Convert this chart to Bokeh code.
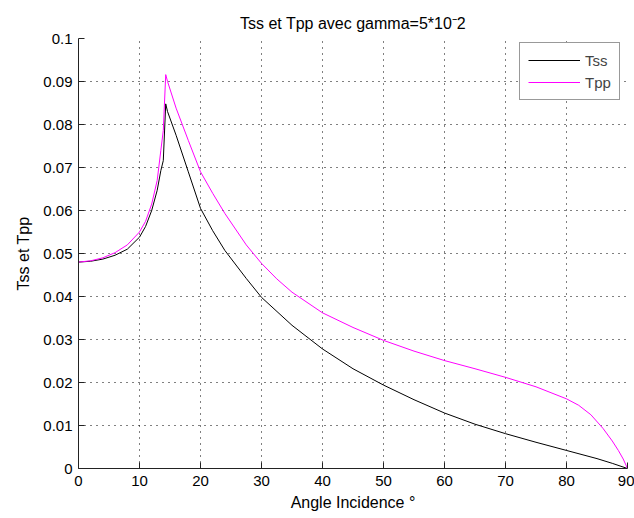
from bokeh.plotting import figure
from bokeh.models import Range1d, FixedTicker, Legend, LegendItem
from bokeh.embed import file_html
from bokeh.resources import INLINE

# ---- data ----
angle_s = [0, 2, 4, 6, 8, 10, 11, 12, 12.9, 13.5, 13.9, 14.3, 14.6, 16, 18, 20, 22,
           24, 27.5, 30, 35, 40, 45, 50, 55, 60, 65, 70, 75, 80, 85, 87.5, 90]
tss = [0.048, 0.0482, 0.0487, 0.0496, 0.051, 0.0538, 0.0563, 0.0600, 0.0647, 0.0693,
       0.0716, 0.0848, 0.0830, 0.0775, 0.069, 0.0605, 0.0553, 0.0507, 0.0442, 0.0398,
       0.0333, 0.0278, 0.0232, 0.0194, 0.016, 0.0129, 0.0103, 0.0081, 0.0061, 0.0042,
       0.0023, 0.0012, 0.0]

angle_p = [0, 2, 4, 6, 8, 10, 11, 12, 12.9, 13.5, 13.9, 14.3, 14.6, 16, 18, 20, 22,
           24, 27.5, 30, 32.5, 35, 40, 45, 50, 55, 60, 65, 70, 75, 80, 82, 84, 86,
           87.5, 88.5, 89.3, 90]
tpp = [0.048, 0.0483, 0.049, 0.0502, 0.052, 0.055, 0.0575, 0.0615, 0.067, 0.074,
       0.0786, 0.0916, 0.090, 0.0838, 0.0763, 0.069, 0.064, 0.0593, 0.052, 0.0477,
       0.0441, 0.041, 0.0362, 0.0328, 0.0298, 0.0273, 0.0251, 0.0232, 0.0212, 0.019,
       0.0162, 0.0147, 0.0125, 0.0093, 0.0064, 0.0042, 0.0022, 0.0]

x_ticks = [0, 10, 20, 30, 40, 50, 60, 70, 80, 90]
y_ticks = [0, 0.01, 0.02, 0.03, 0.04, 0.05, 0.06, 0.07, 0.08, 0.09, 0.1]
y_tick_labels = ["0", "0.01", "0.02", "0.03", "0.04", "0.05", "0.06", "0.07",
                 "0.08", "0.09", "0.1"]

title_text = "Tss et Tpp avec gamma=5*10\u207b2"
x_label = "Angle Incidence \u00b0"
y_label = "Tss et Tpp"
series_names = ["Tss", "Tpp"]
series_colors = ["#000000", "#ff00ff"]

FONT = "Liberation Sans"

p = figure(width=634, height=518, output_backend="svg", toolbar_location=None,
           x_range=Range1d(0, 90), y_range=Range1d(0, 0.1),
           min_border_left=78, min_border_right=7, min_border_top=38,
           min_border_bottom=50, title=title_text)

p.title.align = "center"
p.title.text_font = FONT
p.title.text_font_size = "16px"
p.title.text_font_style = "normal"
p.title.text_color = "#000000"
p.title.offset = 0
p.title.standoff = 14

p.background_fill_color = "white"
p.border_fill_color = "white"
p.outline_line_color = None

for ax in (p.xaxis, p.yaxis):
    ax.axis_line_color = "#222222"
    ax.axis_line_width = 1
    ax.major_tick_line_color = "#222222"
    ax.major_tick_in = 6
    ax.major_tick_out = 0
    ax.minor_tick_line_color = None
    ax.major_label_text_font = FONT
    ax.major_label_text_font_size = "15px"
    ax.major_label_text_color = "#000000"
    ax.axis_label_text_font = FONT
    ax.axis_label_text_font_size = "16px"
    ax.axis_label_text_font_style = "normal"
    ax.axis_label_text_color = "#000000"

p.xaxis.ticker = FixedTicker(ticks=x_ticks)
p.yaxis.ticker = FixedTicker(ticks=y_ticks)
p.yaxis.major_label_overrides = {t: l for t, l in zip(y_ticks, y_tick_labels)}
p.xaxis.major_label_standoff = 7
p.yaxis.major_label_standoff = 6
p.xaxis.axis_label = x_label
p.yaxis.axis_label = y_label
p.xaxis.axis_label_standoff = 5
p.yaxis.axis_label_standoff = 8

for g in (p.xgrid, p.ygrid):
    g.grid_line_color = "#000000"
    g.grid_line_dash = "1 5"
    g.grid_line_width = 1
    g.grid_line_alpha = 1.0
p.xgrid.ticker = FixedTicker(ticks=x_ticks)
p.ygrid.ticker = FixedTicker(ticks=y_ticks)

r1 = p.line(angle_s, tss, line_color=series_colors[0], line_width=1)
r2 = p.line(angle_p, tpp, line_color=series_colors[1], line_width=1)

legend = Legend(items=[LegendItem(label=series_names[0], renderers=[r1]),
                       LegendItem(label=series_names[1], renderers=[r2])],
                location=(441, 368))
legend.border_line_color = "#333333"
legend.border_line_width = 1
legend.background_fill_color = "white"
legend.background_fill_alpha = 1
legend.label_text_font = FONT
legend.label_text_font_size = "15px"
legend.glyph_width = 52
legend.glyph_height = 18
legend.spacing = 4
legend.padding = 8
legend.margin = 0
legend.label_standoff = 5
legend.label_height = 18
p.add_layout(legend, "center")

open("out.html", "w").write(file_html(p, INLINE))
